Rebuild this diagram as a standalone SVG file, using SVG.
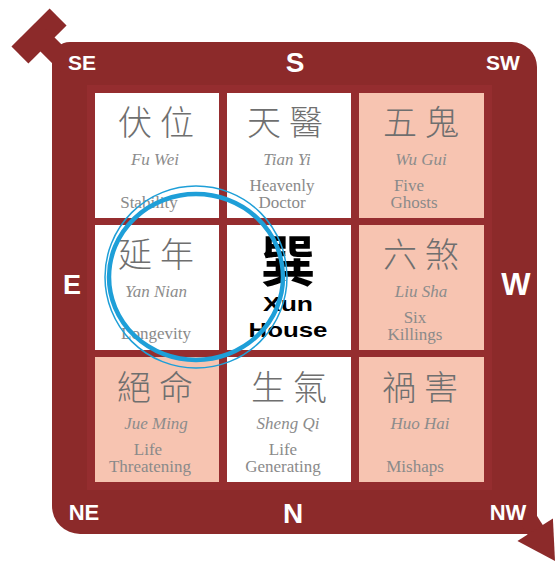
<svg xmlns="http://www.w3.org/2000/svg" width="555" height="561" viewBox="0 0 555 561">
<style>
.frame{fill:#8c2a2a}
.grid{fill:#952d2f}
.cw{fill:#ffffff}
.cp{fill:#f7c4b1}
.zh{font-family:"Noto Sans CJK TC","Noto Sans CJK SC",sans-serif;font-size:34px;font-weight:300;fill:#6f6f6f;text-anchor:middle;letter-spacing:8px}
.py{font-family:"Liberation Serif","Times New Roman",serif;font-style:italic;font-size:17px;fill:#8c8c8c;text-anchor:middle}
.en{font-family:"Liberation Serif","Times New Roman",serif;font-size:17px;fill:#8a8a8a;text-anchor:middle}
.dir{font-family:"Liberation Sans",Arial,sans-serif;font-weight:bold;fill:#ffffff;text-anchor:middle}
.ctr{font-family:"Liberation Sans",Arial,sans-serif;font-weight:bold;fill:#000000;text-anchor:middle;font-size:21px}
.ring{fill:none;stroke:#1e9fd8}
</style>
<rect width="555" height="561" fill="#ffffff"/>
<g id="frame">
<path class="frame" d="M70,42 H512 A25,25 0 0 1 537,67 V534 H80 A28,28 0 0 1 52,506 V60 A18,18 0 0 1 70,42 Z"/>
<rect class="grid" x="87" y="85" width="405" height="405"/>
</g>
<g id="connectors">
<g transform="translate(39,36) rotate(45)">
<rect class="frame" x="-12" y="-27" width="24" height="54"/>
<rect class="frame" x="0" y="-10" width="40" height="20"/>
</g>
<g transform="translate(555,561) rotate(57.6)">
<rect class="frame" x="-63" y="-9" width="28" height="18"/>
<polygon class="frame" points="0,0 -37,-21 -37,21"/>
</g>
</g>
<g id="directions">
<text class="dir" x="82" y="70" font-size="21">SE</text>
<text class="dir" x="295" y="72" font-size="28">S</text>
<text class="dir" x="503" y="70" font-size="21">SW</text>
<text class="dir" x="72" y="294" font-size="27">E</text>
<text class="dir" x="516" y="295" font-size="31">W</text>
<text class="dir" x="84" y="520" font-size="22">NE</text>
<text class="dir" x="293" y="523" font-size="28">N</text>
<text class="dir" x="508" y="520" font-size="22">NW</text>
</g>
<g id="fu-wei">
<rect class="cw" x="95" y="93" width="124" height="125"/>
<text class="zh" x="160" y="135">伏位</text>
<text class="py" x="155" y="165">Fu Wei</text>
<text class="en" x="149" y="208">Stability</text>
</g>
<g id="tian-yi">
<rect class="cw" x="227" y="93" width="124" height="125"/>
<text class="zh" x="289" y="135">天醫</text>
<text class="py" x="287" y="165">Tian Yi</text>
<text class="en" x="282" y="191">Heavenly</text>
<text class="en" x="282" y="208">Doctor</text>
</g>
<g id="wu-gui">
<rect class="cp" x="359" y="93" width="125" height="125"/>
<text class="zh" x="425" y="135">五鬼</text>
<text class="py" x="421" y="165">Wu Gui</text>
<text class="en" x="409" y="191">Five</text>
<text class="en" x="414" y="208">Ghosts</text>
</g>
<g id="yan-nian">
<rect class="cw" x="95" y="225" width="124" height="125"/>
<text class="zh" x="160" y="267">延年</text>
<text class="py" x="156" y="297">Yan Nian</text>
<text class="en" x="156" y="339">Longevity</text>
</g>
<g id="xun-house">
<rect class="cw" x="227" y="225" width="124" height="125"/>
<text x="288" y="281" font-family="'Noto Sans CJK TC','Noto Sans CJK SC',sans-serif" font-size="55" font-weight="bold" fill="#000" text-anchor="middle">巽</text>
<text class="ctr" x="288" y="311" textLength="50" lengthAdjust="spacingAndGlyphs">Xun</text>
<text class="ctr" x="288" y="337" textLength="79" lengthAdjust="spacingAndGlyphs">House</text>
</g>
<g id="liu-sha">
<rect class="cp" x="359" y="225" width="125" height="125"/>
<text class="zh" x="425" y="267">六煞</text>
<text class="py" x="421" y="297">Liu Sha</text>
<text class="en" x="415" y="323">Six</text>
<text class="en" x="415" y="340">Killings</text>
</g>
<g id="jue-ming">
<rect class="cp" x="95" y="357" width="124" height="125"/>
<text class="zh" x="159" y="400">絕命</text>
<text class="py" x="156" y="429">Jue Ming</text>
<text class="en" x="148" y="455">Life</text>
<text class="en" x="150" y="472">Threatening</text>
</g>
<g id="sheng-qi">
<rect class="cw" x="227" y="357" width="124" height="125"/>
<text class="zh" x="293" y="400">生氣</text>
<text class="py" x="288" y="429">Sheng Qi</text>
<text class="en" x="283" y="455">Life</text>
<text class="en" x="283" y="472">Generating</text>
</g>
<g id="huo-hai">
<rect class="cp" x="359" y="357" width="125" height="125"/>
<text class="zh" x="424" y="400">禍害</text>
<text class="py" x="420" y="429">Huo Hai</text>
<text class="en" x="415" y="472">Mishaps</text>
</g>
<g id="highlight-ring">
<circle class="ring" cx="196" cy="277" r="91" stroke-width="1.5"/>
<ellipse class="ring" cx="196" cy="277" rx="87" ry="83" stroke-width="4.5"/>
</g>
</svg>
